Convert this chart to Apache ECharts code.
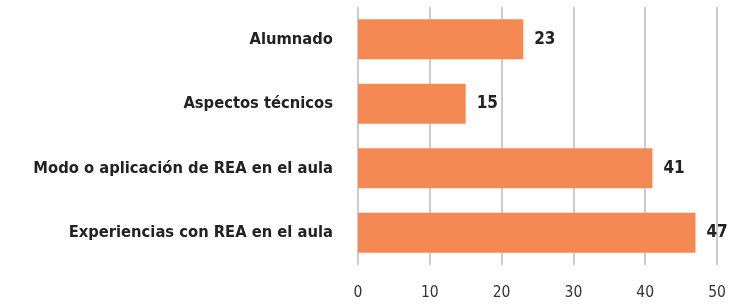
<!DOCTYPE html>
<html>
<head>
<meta charset="utf-8">
<script src="https://cdn.jsdelivr.net/npm/echarts@6/dist/echarts.min.js"></script>
<style>
    html, body { margin: 0; padding: 0; background: #fff; }
    #chart { width: 744px; height: 307px; }
</style>
</head>
<body>
<div id="chart"></div>
<script>
    // categories listed top to bottom
    const categories = ['Alumnado', 'Aspectos técnicos', 'Modo o aplicación de REA en el aula', 'Experiencias con REA en el aula'];
    const values = [23, 15, 41, 47];
    const xTicks = [0, 10, 20, 30, 40, 50];

    const myChart = echarts.init(document.getElementById('chart'));
    const option = {
        animation: false,
        grid: { left: 358, right: 27, top: 7, bottom: 42 },
        xAxis: {
            type: 'value',
            min: xTicks[0],
            max: xTicks[xTicks.length - 1],
            interval: 10,
            axisLine: { show: false },
            axisTick: { show: false },
            axisLabel: { color: '#333', fontSize: 15.5, margin: 20, fontFamily: 'DejaVu Sans Condensed' },
            splitLine: { lineStyle: { color: '#bbb', width: 1.5 } }
        },
        yAxis: {
            type: 'category',
            inverse: true,
            data: categories,
            axisLine: { show: false },
            axisTick: { show: false },
            axisLabel: { color: '#222', fontSize: 16.4, margin: 25, fontFamily: 'DejaVu Sans Condensed', fontWeight: 'bold' }
        },
        series: [{
            type: 'bar',
            data: values,
            barCategoryGap: '38%',
            itemStyle: { color: '#F58954' },
            label: {
                show: true,
                position: 'right',
                distance: 11,
                color: '#222',
                fontSize: 17,
                fontWeight: 'bold',
                fontFamily: 'DejaVu Sans Condensed'
            }
        }]
    };
    myChart.setOption(option);
</script>
</body>
</html>
